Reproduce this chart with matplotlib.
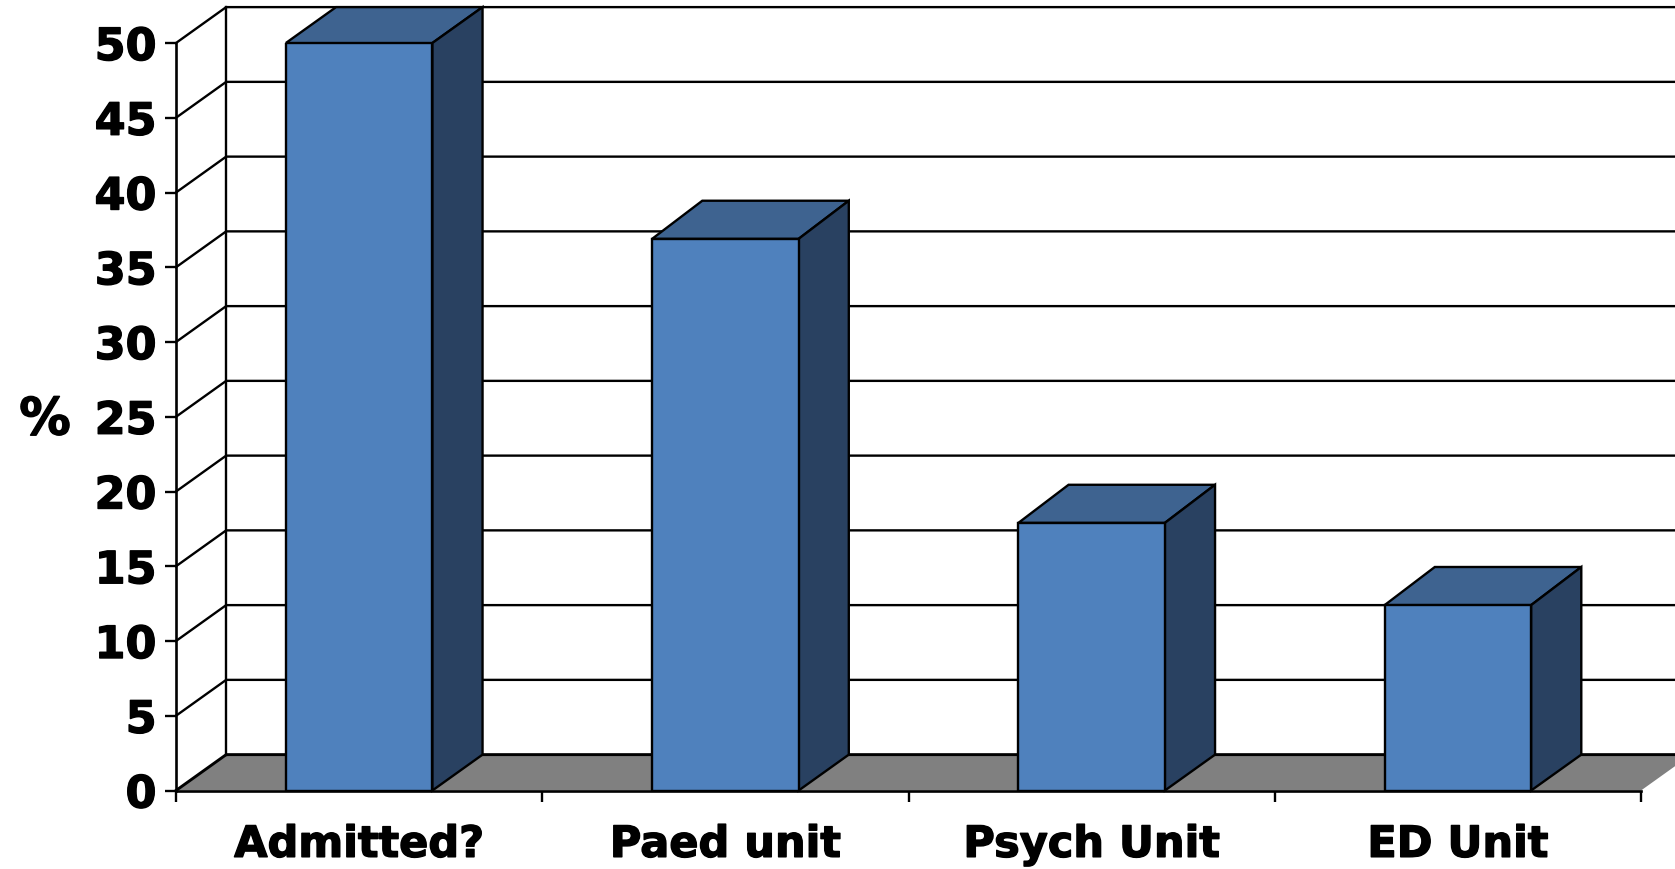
import matplotlib
matplotlib.use('Agg')
import matplotlib.pyplot as plt
import matplotlib.patheffects as pe

categories = ["Admitted?", "Paed unit", "Psych Unit", "ED Unit"]
values = [50, 36.9, 17.9, 12.4]
y_ticks = [0, 5, 10, 15, 20, 25, 30, 35, 40, 45, 50]

W, H = 1675, 869
FRONT = "#4F81BD"
TOP = "#3E6390"
SIDE = "#294161"
FLOOR = "#808080"
LW = 1.7

# oblique offset of the back wall, in data units
DX = 0.137
DY = 2.4
BAR_DY = 2.55
BAR_W = 0.40

plt.rcParams['font.family'] = ['DejaVu Sans']
plt.rcParams['font.weight'] = 'bold'

fig = plt.figure(figsize=(W / 100, H / 100), dpi=100)
ax = fig.add_axes([176 / W, 1 - 790.5 / H, 1465 / W, 747.5 / H])
ax.set_xlim(0, len(categories))
ax.set_ylim(0, 50)
ax.patch.set_visible(False)

# back wall and floor
right = len(categories) + DX
ax.fill([0, DX, right, len(categories)], [0, DY, DY, 0],
        color=FLOOR, lw=0, zorder=1, clip_on=False)
for y in y_ticks:
    ax.plot([0, DX, right], [y, y + DY, y + DY], color='black',
            lw=LW if y else LW + 0.4, zorder=1.5, clip_on=False,
            solid_joinstyle='miter')
ax.plot([DX, DX], [DY, 50 + DY], color='black', lw=LW, zorder=1.5, clip_on=False)

# bars: front face from ax.bar, top and side as oblique polygons
xs = [i + 0.5 for i in range(len(categories))]
ax.bar(xs, values, width=BAR_W, color=FRONT, edgecolor='black', linewidth=LW, zorder=3)
for x, v in zip(xs, values):
    x0, x1 = x - BAR_W / 2, x + BAR_W / 2
    back = min(v + BAR_DY, 50 + DY)
    ax.fill([x0, x1, x1 + DX, x0 + DX], [v, v, back, back], facecolor=TOP,
            edgecolor='black', lw=LW, zorder=2.8, clip_on=False)
    ax.fill([x1, x1 + DX, x1 + DX, x1], [0, DY, back, v], facecolor=SIDE,
            edgecolor='black', lw=LW, zorder=2.8, clip_on=False)

for s in ['top', 'right']:
    ax.spines[s].set_visible(False)
for s in ['left', 'bottom']:
    ax.spines[s].set_linewidth(LW + 0.2)

ax.set_yticks(y_ticks)
ax.set_xticks(range(len(categories) + 1))
ax.set_xticklabels([])
ax.set_xticks(xs, minor=True)
ax.set_xticklabels(categories, minor=True)
ax.tick_params(axis='y', length=8, width=LW, pad=6, labelsize=32)
ax.tick_params(axis='x', which='major', length=8, width=LW)
ax.tick_params(axis='x', which='minor', length=0, pad=24, labelsize=31)

ax.set_ylabel("%", rotation=0, fontsize=37, fontweight='bold', va='center', ha='center')
ax.yaxis.set_label_coords(-131 / 1465, 0.495)

# heavier strokes on all the lettering
heavy = [pe.withStroke(linewidth=1.0, foreground='black')]
for t in ax.get_yticklabels() + ax.get_xticklabels(minor=True) + [ax.yaxis.label]:
    t.set_path_effects(heavy)

fig.savefig("out.png", dpi=100)
